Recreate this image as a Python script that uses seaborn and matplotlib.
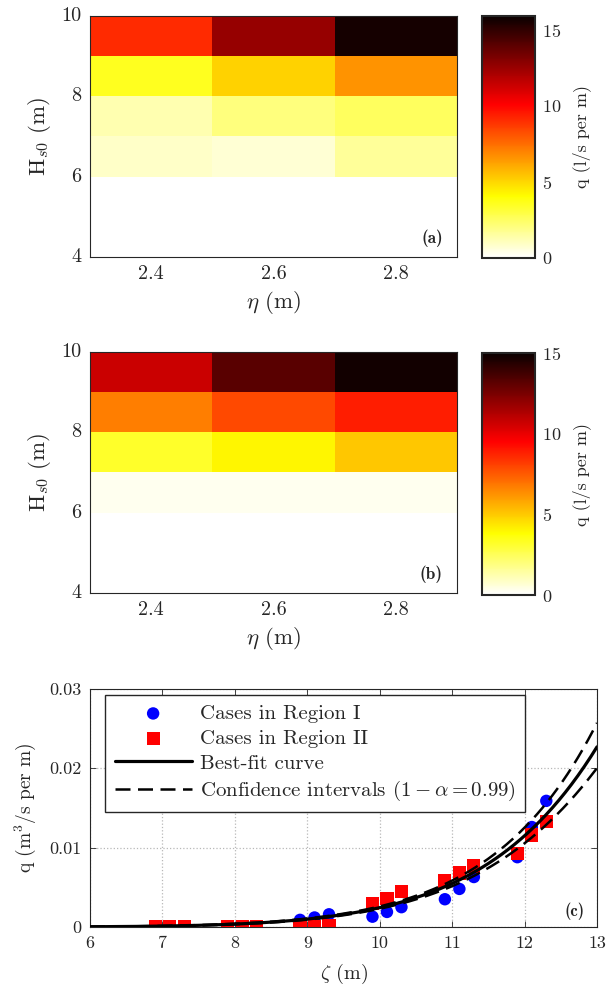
import numpy as np
import pandas as pd
import matplotlib
matplotlib.use("Agg")
import matplotlib.pyplot as plt
import seaborn as sns

# ---- heat maps: overtopping discharge over (eta, Hs0) cells ----
eta_centers = [2.4, 2.6, 2.8]            # cell centres, m
hs0_centers = [9.5, 8.5, 7.5, 6.5, 5.5, 4.5]  # cell centres (top row first), m
cell_w_eta = 0.2
cell_h_hs0 = 1.0

q_map_a = [
    [9.1, 12.6, 15.6],
    [3.6, 5.1, 6.6],
    [1.3, 2.1, 2.6],
    [0.9, 0.7, 1.65],
    [0.0, 0.0, 0.0],
    [0.0, 0.0, 0.0],
]
q_map_b = [
    [10.7, 13.2, 14.8],
    [6.7, 7.9, 8.85],
    [3.2, 4.0, 5.05],
    [0.25, 0.25, 0.25],
    [0.0, 0.0, 0.0],
    [0.0, 0.0, 0.0],
]
vmax_a = 15.9
vmax_b = 15.0

eta_ticks = [2.4, 2.6, 2.8]
eta_ticklabels = ["2.4", "2.6", "2.8"]
hs0_ticks = [4, 6, 8, 10]
hs0_ticklabels = ["4", "6", "8", "10"]
cbar_ticks = [0, 5, 10, 15]

# ---- scatter: discharge vs zeta ----
zeta_r1 = [7.9, 8.1, 8.3, 8.9, 9.1, 9.3, 9.9, 10.1, 10.3,
           10.9, 11.1, 11.3, 11.9, 12.1, 12.3]
q_r1 = [0.0, 0.0, 0.0, 0.0009, 0.0012, 0.0016, 0.0013, 0.0019, 0.0025,
        0.0035, 0.0048, 0.0063, 0.0088, 0.0126, 0.0159]

zeta_r2 = [6.9, 7.1, 7.3, 7.9, 8.1, 8.3, 8.9, 9.1, 9.3, 9.9, 10.1, 10.3,
           10.9, 11.1, 11.3, 11.9, 12.1, 12.3]
q_r2 = [0.0, 0.0, 0.0, 0.0, 0.0, 0.0, 0.0, 0.0001, 0.0002, 0.0030, 0.0036,
        0.0045, 0.0058, 0.0068, 0.0077, 0.0093, 0.0116, 0.0133]

# power-law best fit q = c * zeta^n, with 99% band (log half-width)
fit_coef = 7.72e-12
fit_exp = 8.5
ci_h0 = 0.06
ci_h1 = 0.0089
ci_center = 10.3

zeta_ticks = [6, 7, 8, 9, 10, 11, 12, 13]
q_ticks = [0, 0.01, 0.02, 0.03]
q_ticklabels = ["0", "0.01", "0.02", "0.03"]

# ---- style ----
sns.set_style("ticks")
plt.rcParams["font.family"] = ["cmr10", "DejaVu Serif"]
plt.rcParams["mathtext.fontset"] = "cm"
plt.rcParams["axes.formatter.use_mathtext"] = True
plt.rcParams["axes.unicode_minus"] = False
DARK = "#262626"

W, H = 609, 996
fig = plt.figure(figsize=(W / 100, H / 100), dpi=100)


def box(l, t, r, b):
    return [l / W, 1 - b / H, (r - l) / W, (b - t) / H]


ax_a = fig.add_axes(box(90, 16, 457, 257))
cax_a = fig.add_axes(box(482, 16, 535, 258))
ax_b = fig.add_axes(box(90, 352, 457, 593))
cax_b = fig.add_axes(box(482, 353, 535, 595))
ax_c = fig.add_axes(box(90, 689, 597, 927))


def draw_map(ax, cax, values, vmax, tag):
    df = pd.DataFrame(values, index=hs0_centers, columns=eta_centers)
    sns.heatmap(df, ax=ax, cbar_ax=cax, cmap="hot_r", vmin=0, vmax=vmax,
                cbar_kws={"ticks": cbar_ticks})
    eta0 = eta_centers[0] - cell_w_eta / 2
    hs_top = hs0_centers[0] + cell_h_hs0 / 2
    ax.set_xticks([(t - eta0) / cell_w_eta for t in eta_ticks])
    ax.set_xticklabels(eta_ticklabels, rotation=0)
    ax.set_yticks([(hs_top - t) / cell_h_hs0 for t in hs0_ticks])
    ax.set_yticklabels(hs0_ticklabels, rotation=0)
    for sp in ax.spines.values():
        sp.set_visible(True)
        sp.set_linewidth(0.8)
        sp.set_color(DARK)
    ax.tick_params(direction="in", top=True, right=True, length=4,
                   width=0.6, labelsize=14.5, colors=DARK, pad=6)
    ax.set_xlabel(r"$\eta$ (m)", fontsize=16.5, color=DARK, labelpad=4)
    ax.set_ylabel(r"H$_{s0}$ (m)", fontsize=16.5, color=DARK, labelpad=6)
    ax.text(0.962, 0.077, tag, transform=ax.transAxes, ha="right",
            va="center", fontsize=12.5, family="cmb10", color=DARK)
    cb = ax.collections[0].colorbar
    cb.outline.set_visible(True)
    cb.outline.set_linewidth(1.5)
    cb.outline.set_edgecolor(DARK)
    cax.tick_params(direction="in", length=4, width=0.6, labelsize=13,
                    colors=DARK, right=True, pad=5)
    cb.set_label("q (l/s per m)", fontsize=13, color=DARK, labelpad=8)


draw_map(ax_a, cax_a, q_map_a, vmax_a, "(a)")
draw_map(ax_b, cax_b, q_map_b, vmax_b, "(b)")

# ---- panel (c) ----
ax = ax_c
ax.grid(True, linestyle=":", color="#b8b8b8", linewidth=0.9)
ax.set_axisbelow(True)
sns.scatterplot(x=zeta_r1, y=q_r1, ax=ax, color="#0000ff", marker="o",
                s=80, edgecolor="none", label="Cases in Region I", zorder=3)
sns.scatterplot(x=zeta_r2, y=q_r2, ax=ax, color="#ff0000", marker="s",
                s=90, edgecolor="none", label="Cases in Region II", zorder=3)

zeta_grid = np.linspace(zeta_ticks[0], zeta_ticks[-1], 400)
q_fit = fit_coef * zeta_grid ** fit_exp
half = ci_h0 + ci_h1 * (zeta_grid - ci_center) ** 2
q_up = q_fit * np.exp(half)
q_lo = q_fit * np.exp(-half)

sns.lineplot(x=zeta_grid, y=q_fit, ax=ax, color="black", linewidth=2.3,
             label="Best-fit curve", zorder=4)
sns.lineplot(x=zeta_grid, y=q_up, ax=ax, color="black", linewidth=1.8,
             linestyle=(0, (6, 3)),
             label=r"Confidence intervals $(1-\alpha=0.99)$", zorder=4)
sns.lineplot(x=zeta_grid, y=q_lo, ax=ax, color="black", linewidth=1.8,
             linestyle=(0, (6, 3)), zorder=4)

ax.set_xlim(zeta_ticks[0], zeta_ticks[-1])
ax.set_ylim(q_ticks[0], q_ticks[-1])
ax.set_xticks(zeta_ticks)
ax.set_xticklabels([str(t) for t in zeta_ticks])
ax.set_yticks(q_ticks)
ax.set_yticklabels(q_ticklabels)
for sp in ax.spines.values():
    sp.set_visible(True)
    sp.set_linewidth(0.8)
    sp.set_color(DARK)
ax.tick_params(direction="in", top=True, right=True, length=4, width=0.6,
               labelsize=13, colors=DARK, pad=6)
ax.set_xlabel(r"$\zeta$ (m)", fontsize=14.5, color=DARK, labelpad=8)
ax.set_ylabel(r"q (m$^3$/s per m)", fontsize=14, color=DARK, labelpad=8)
ax.text(0.976, 0.067, "(c)", transform=ax.transAxes, ha="right",
        va="center", fontsize=12, family="cmb10", color=DARK)

handles, labels = ax.get_legend_handles_labels()
leg = ax.legend(handles, labels, loc="upper left",
                bbox_to_anchor=(0.03, 0.975), borderaxespad=0,
                fontsize=15, handlelength=3.7, labelspacing=0.3,
                borderpad=0.45, handletextpad=0.4, frameon=True,
                fancybox=False, framealpha=1, edgecolor=DARK)
leg.get_frame().set_linewidth(1.0)

fig.savefig("out.png", dpi=100)
